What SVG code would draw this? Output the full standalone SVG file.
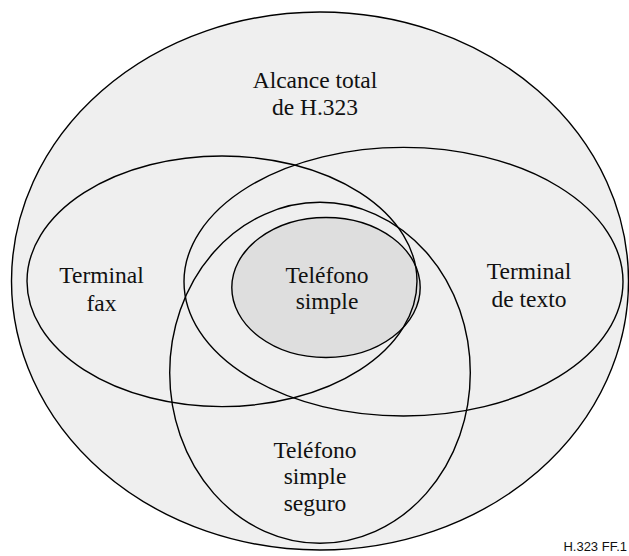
<svg xmlns="http://www.w3.org/2000/svg" width="629" height="556" viewBox="0 0 629 556">
  <style>
    .ol { fill: none; stroke: #000; stroke-width: 1.4; }
    .lbl { font-family: "Liberation Serif", "Times New Roman", serif; font-size: 23.5px; fill: #111; text-anchor: middle; }
    .ref { font-family: "Liberation Sans", Arial, sans-serif; font-size: 13px; fill: #111; text-anchor: end; }
  </style>
  <rect width="629" height="556" fill="#fff"/>
  <g id="alcance-total">
    <ellipse cx="320" cy="281" rx="308.5" ry="269" fill="#efefef" stroke="#000" stroke-width="1.4"/>
    <text class="lbl" x="315" y="88">Alcance total</text>
    <text class="lbl" x="315" y="115">de H.323</text>
  </g>
  <g id="telefono-simple-fill">
    <ellipse cx="326" cy="287.5" rx="94.2" ry="70" fill="#dedede"/>
  </g>
  <g id="terminal-fax">
    <ellipse class="ol" cx="222" cy="281.3" rx="195" ry="125.3"/>
    <text class="lbl" x="101.5" y="283">Terminal</text>
    <text class="lbl" x="101.5" y="311">fax</text>
  </g>
  <g id="terminal-texto">
    <ellipse class="ol" cx="403.5" cy="281.7" rx="219.5" ry="134.3"/>
    <text class="lbl" x="529" y="279">Terminal</text>
    <text class="lbl" x="529" y="306.5">de texto</text>
  </g>
  <g id="telefono-simple-seguro">
    <ellipse class="ol" cx="320" cy="372.8" rx="150.3" ry="170.5"/>
    <text class="lbl" x="315" y="457.7">Teléfono</text>
    <text class="lbl" x="315" y="484.3">simple</text>
    <text class="lbl" x="315" y="510.5">seguro</text>
  </g>
  <g id="telefono-simple">
    <ellipse class="ol" cx="326" cy="287.5" rx="94.2" ry="70"/>
    <text class="lbl" x="327" y="282.7">Teléfono</text>
    <text class="lbl" x="327" y="309.3">simple</text>
  </g>
  <g id="connectors"></g>
  <text class="ref" x="627" y="551">H.323  FF.1</text>
</svg>
